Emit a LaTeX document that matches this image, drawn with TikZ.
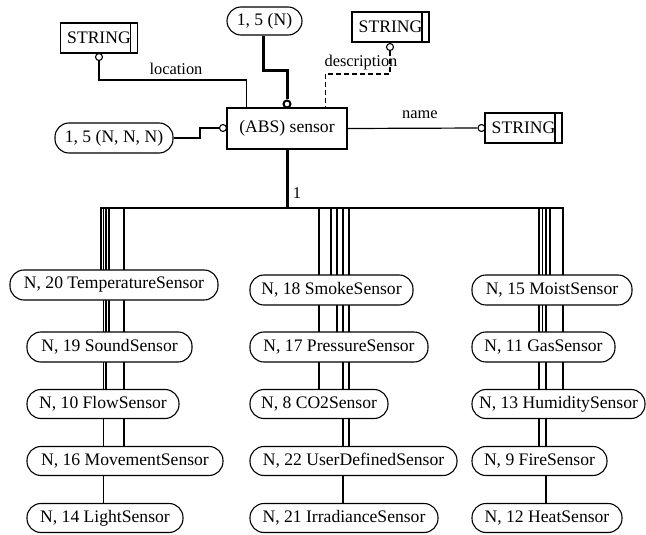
\documentclass[tikz,border=0pt]{standalone}
\usepackage{fontspec}
\setmainfont{Liberation Serif}
\usetikzlibrary{backgrounds,calc}
\begin{document}
\begin{tikzpicture}[x=1pt,y=-1pt,
  every node/.style={font=\fontsize{17.6}{20}\selectfont},
  rnd/.style={draw, line width=1.1pt, rounded corners=14pt, minimum height=29pt, inner sep=0pt, fill=white},
  ent/.style={draw, line width=1.1pt, inner sep=0pt, fill=white},
  strg/.style={ent, minimum width=77pt, minimum height=30pt,
    path picture={\draw[line width=1.1pt] ([xshift=-7pt]path picture bounding box.north east) -- ([xshift=-7pt]path picture bounding box.south east);}},
  lbl/.style={font=\fontsize{16.4}{18}\selectfont, inner sep=0pt},
  conn/.style={line width=1.2pt},
  vl/.style={line width=1.8pt},
  oc/.style={circle, draw, fill=white, inner sep=0pt, minimum size=7pt, line width=1.1pt}]
\useasboundingbox (0,0) rectangle (646,535);

% top part
\node[ent, minimum width=120pt, minimum height=41pt] (sensor) at (287,128.5) {(ABS) sensor};
\node[rnd, minimum width=75pt, minimum height=28pt] (card) at (264.5,21) {1, 5 (N)};
\node[strg] (strL) at (99,38) {STRING\hspace{7pt}};
\node[strg] (strD) at (390.5,27) {STRING\hspace{7pt}};
\node[strg] (strN) at (523.5,128) {STRING\hspace{7pt}};
\node[rnd, minimum width=118pt, minimum height=30pt] (card3) at (114,138) {1, 5 (N, N, N)};

\node[oc] (cL) at (99,57) {};
\node[oc, line width=2pt] (cN) at (287,104) {};
\node[oc] (cD) at (390,47) {};
\node[oc] (cNm) at (481.5,128) {};
\node[oc] (cA) at (223,128) {};

\node[lbl] (lloc) at (176,69) {location};
\node[lbl] (ldesc) at (361,63) {description};
\node[lbl] (lname) at (420,115) {name};
\node[lbl] (lone) at (297,193) {1};

% column nodes
\node[rnd, minimum width=208pt, minimum height=30pt] (temp) at (114,285) {N, 20 TemperatureSensor};
\node[rnd, minimum width=165pt, minimum height=30pt] (sound) at (109.5,347) {N, 19 SoundSensor};
\node[rnd, minimum width=152pt] (flow) at (103,404) {N, 10 FlowSensor};
\node[rnd, minimum width=196pt] (move) at (125,461) {N, 16 MovementSensor};
\node[rnd, minimum width=156pt] (light) at (105,518) {N, 14 LightSensor};

\node[rnd, minimum width=163pt, minimum height=30pt] (smoke) at (331.5,290) {N, 18 SmokeSensor};
\node[rnd, minimum width=178pt, minimum height=30pt] (press) at (339,347) {N, 17 PressureSensor};
\node[rnd, minimum width=138pt] (co2) at (319,404) {N, 8 CO2Sensor};
\node[rnd, minimum width=207pt] (user) at (353.5,461) {N, 22 UserDefinedSensor};
\node[rnd, minimum width=188pt] (irr) at (344,518) {N, 21 IrradianceSensor};

\node[rnd, minimum width=160pt, minimum height=30pt] (moist) at (552,290) {N, 15 MoistSensor};
\node[rnd, minimum width=143pt, minimum height=30pt] (gas) at (543.5,347) {N, 11 GasSensor};
\node[rnd, minimum width=173pt] (hum) at (558.5,404) {N, 13 HumiditySensor};
\node[rnd, minimum width=135pt] (fire) at (539.5,461) {N, 9 FireSensor};
\node[rnd, minimum width=150pt] (heat) at (547,518) {N, 12 HeatSensor};

\coordinate (bus) at (287,208);
\foreach \n/\x in {L1/101,L2/103.5,L3/106,L4/109,L5/124,M1/319,M2/331,M3/337,M4/343,M5/349,R1/539,R2/542.5,R3/546,R4/550,R5/563}
  \coordinate (\n) at (\x,208);

\begin{scope}[on background layer]
  \draw[conn] (cL) -- (99,80) -| ($(sensor.north west)+(20,0)$);
  \draw[line width=3pt] (card.south) ++(-1,0) -- (263.5,71) -| (cN);
  \draw[conn, dash pattern=on 5pt off 3pt] (cD) -- (390,74) -| ($(sensor.north west)+(99,0)$);
  \draw[conn] (sensor.east) -- (cNm);
  \draw[conn] (card3.east) -- (200,138) |- (cA);
  \draw[line width=3pt] (sensor.south) -- (bus);
  \draw[line width=2.4pt, line cap=rect] (L1) -- (R5);
  \foreach \c/\t in {L1/temp,L2/light,L3/flow,L4/sound,L5/move,M1/co2,M2/smoke,M3/press,M4/irr,M5/user,R1/fire,R2/gas,R3/heat,R4/moist,R5/hum}
    \draw[vl] (\c) -- (\c |- \t.center);
\end{scope}
\end{tikzpicture}
\end{document}
